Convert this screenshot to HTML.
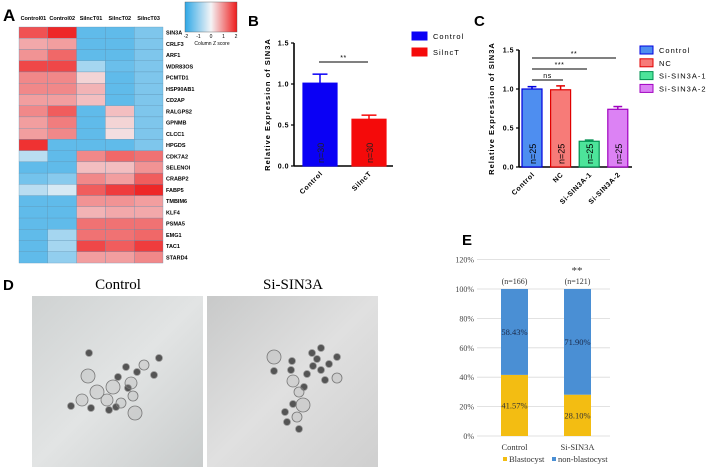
<!DOCTYPE html>
<html><head><meta charset="utf-8"><style>
html,body{margin:0;padding:0;background:#fff;}
svg{display:block;font-family:"Liberation Sans",Arial,sans-serif;}
</style></head><body>
<svg id="fig" width="708" height="468" viewBox="0 0 708 468">
<defs>
<linearGradient id="zkey" x1="0" x2="1" y1="0" y2="0">
<stop offset="0" stop-color="#2fa8e6"/><stop offset="0.5" stop-color="#f4f4f6"/><stop offset="1" stop-color="#ee1c1c"/>
</linearGradient>
<linearGradient id="photoL" x1="0" y1="0" x2="1" y2="1">
<stop offset="0" stop-color="#cfd2d2"/><stop offset="0.5" stop-color="#e2e4e4"/><stop offset="1" stop-color="#c9cccc"/>
</linearGradient>
<linearGradient id="photoR" x1="0" y1="0" x2="1" y2="1">
<stop offset="0" stop-color="#c8c9c9"/><stop offset="0.5" stop-color="#e0e0e0"/><stop offset="1" stop-color="#cfcfcf"/>
</linearGradient>
</defs>
<g id="panelA"></g>
<g id="panelB"></g>
<g id="panelC"></g>
<g id="panelD"></g>
<g id="panelE"></g>
</svg>
<script>
// ---- Panel A data
const hmCols = ["Control01","Control02","SilncT01","SilncT02","SilncT03"];
const hmGenes = ["SIN3A","CRLF3","ARF1","WDR83OS","PCMTD1","HSP90AB1","CD2AP","RALGPS2","GPNMB","CLCC1","HPGDS","CDK7A2","SELENOI","CRABP2","FABP5","TMBIM6","KLF4","PSMA5","EMG1","TAC1","STARD4"];
const hmValues = [
[1.5,1.9,-1.5,-1.5,-1.2],[0.7,0.8,-1.5,-1.5,-1.2],[0.9,1.3,-1.5,-1.5,-1.2],[1.6,1.6,-0.8,-1.4,-1.2],
[1.0,1.0,0.3,-1.5,-1.2],[1.0,1.0,0.6,-1.5,-1.2],[0.8,0.8,0.5,-1.5,-1.2],[1.0,1.4,-1.5,0.5,-1.2],
[0.8,1.1,-1.5,0.3,-1.2],[0.8,1.0,-1.5,0.2,-1.2],[1.8,-1.5,-1.5,-1.5,-1.2],[-0.6,-1.5,1.0,1.3,1.2],
[-1.5,-1.5,0.5,0.5,0.9],[-1.3,-1.1,1.0,0.8,1.4],[-0.6,-0.3,1.4,1.7,1.9],[-1.5,-1.5,0.9,0.9,0.8],
[-1.5,-1.5,0.6,0.7,0.7],[-1.5,-1.5,1.2,1.2,1.2],[-1.5,-0.8,1.2,1.2,1.3],[-1.5,-0.8,1.6,1.4,1.7],[-1.5,-1.0,0.8,0.8,1.0]];
const zTicks = ["-2","-1","0","1","2"];
// ---- Panel B data
const bCats = ["Control","SilncT"];
const bValues = [1.01,0.57];
const bErrors = [0.11,0.05];
const bN = ["n=30","n=30"];
const bTicks = [0,0.5,1.0,1.5];
// ---- Panel C data
const cCats = ["Control","NC","Si-SIN3A-1","Si-SIN3A-2"];
const cValues = [1.0,0.99,0.33,0.74];
const cErrors = [0.03,0.05,0.015,0.035];
const cN = ["n=25","n=25","n=25","n=25"];
const cTicks = [0,0.5,1.0,1.5];
// ---- Panel E data
const eCats = ["Control","Si-SIN3A"];
const eBlast = [41.57,28.10];
const eNon = [58.43,71.90];
const eNs = ["(n=166)","(n=121)"];
const eTicks = [0,20,40,60,80,100,120];

const NS="http://www.w3.org/2000/svg";
function mk(parent,tag,attrs,text){const e=document.createElementNS(NS,tag);for(const k in attrs)e.setAttribute(k,attrs[k]);if(text!==undefined)e.textContent=text;parent.appendChild(e);return e;}

// ===== Panel A
(function(){
const g=document.getElementById('panelA');
const x0=19,cw=28.8,y0=27,rh=11.24;
const colX=i=>x0+i*cw, rowY=j=>y0+j*rh;
function zcol(z){z=Math.max(-2,Math.min(2,z));const b=[47,168,230],w=[244,244,246],r=[238,28,28];let t,a,c;if(z<0){t=-z/2;a=w;c=b;}else{t=z/2;a=w;c=r;}return `rgb(${a.map((v,i)=>Math.round(v+(c[i]-v)*t)).join(',')})`;}
let t=mk(g,'text',{x:3,y:21,'font-size':17,'font-weight':'bold'},'A');

hmCols.forEach((c,i)=>{const e=mk(g,'text',{x:colX(i)+cw/2,y:20,'font-size':5.5,'font-weight':'bold','text-anchor':'middle'},c);
});
hmGenes.forEach((gn,j)=>{hmValues[j].forEach((v,i)=>{const r=mk(g,'rect',{x:colX(i),y:rowY(j),width:cw,height:rh,fill:zcol(v),stroke:'#5a8fb0','stroke-width':0.3});
});
const e=mk(g,'text',{x:166,y:rowY(j)+rh/2+2,'font-size':5.5,'font-weight':'bold'},gn);
});
const k=mk(g,'rect',{x:185,y:2,width:52,height:30,fill:'url(#zkey)',stroke:'#555','stroke-width':0.4});

zTicks.forEach((s,i)=>{const e=mk(g,'text',{x:186+i*12.5,y:38,'font-size':5,'text-anchor':'middle'},s);
});
const e=mk(g,'text',{x:212,y:45,'font-size':5,'text-anchor':'middle'},'Column Z score');

})();

// ===== generic bar chart
function barChart(gid,opt){
const g=document.getElementById(gid);
const y=v=>opt.y0-v/1.5*(opt.y0-opt.yTop);
let L=mk(g,'text',{x:opt.lx,y:opt.ly,'font-size':15,'font-weight':'bold'},opt.letter);

const ya=mk(g,'line',{x1:opt.ax,y1:y(1.5),x2:opt.ax,y2:opt.y0,stroke:'#000','stroke-width':1.6});

const xa=mk(g,'line',{x1:opt.ax,y1:opt.y0,x2:opt.axEnd,y2:opt.y0,stroke:'#000','stroke-width':1.6});

opt.ticks.forEach(v=>{const tk=mk(g,'line',{x1:opt.ax-3,y1:y(v),x2:opt.ax,y2:y(v),stroke:'#000','stroke-width':1.2});

const tl=mk(g,'text',{x:opt.ax-5,y:y(v)+2.5,'font-size':7,'font-weight':'bold','text-anchor':'end','letter-spacing':0.5},v.toFixed(1));
});
const yl=mk(g,'text',{x:opt.ylx,y:(y(1.5)+opt.y0)/2,'font-size':7.5,'font-weight':'bold','text-anchor':'middle','letter-spacing':1,transform:`rotate(-90 ${opt.ylx} ${(y(1.5)+opt.y0)/2})`},'Relative Expression of SIN3A');

opt.cats.forEach((c,i)=>{const bx=opt.bx0+i*opt.step, cx=bx+opt.bw/2;
const b=mk(g,'rect',{x:bx,y:y(opt.vals[i]),width:opt.bw,height:opt.y0-y(opt.vals[i]),fill:opt.fills[i],stroke:opt.strokes[i],'stroke-width':1.2});

const top=y(opt.vals[i]+opt.errs[i]);
const e1=mk(g,'line',{x1:cx,y1:y(opt.vals[i]),x2:cx,y2:top,stroke:opt.strokes[i],'stroke-width':1.5});

const e2=mk(g,'line',{x1:cx-opt.bw*0.22,y1:top,x2:cx+opt.bw*0.22,y2:top,stroke:opt.strokes[i],'stroke-width':1.5});

const nt=mk(g,'text',{x:cx+4,y:opt.y0-3,'font-size':opt.nfs,'text-anchor':'start',fill:opt.nfill,transform:`rotate(-90 ${cx+4} ${opt.y0-3})`},opt.ns[i]);

const xl=mk(g,'text',{x:cx+3,y:opt.y0+8,'font-size':7,'font-weight':'bold','text-anchor':'end','letter-spacing':0.6,transform:`rotate(-45 ${cx+3} ${opt.y0+8})`},c);

const lr=mk(g,'rect',{x:opt.legX,y:opt.legY+i*opt.legStep,width:opt.legW,height:8,fill:opt.fills[i],stroke:opt.strokes[i],'stroke-width':1});

const lt=mk(g,'text',{x:opt.legX+opt.legW+6,y:opt.legY+i*opt.legStep+7,'font-size':7.5,'letter-spacing':1},c);
});
opt.sig.forEach(s=>{const ln=mk(g,'line',{x1:s[0],y1:s[2],x2:s[1],y2:s[2],stroke:'#000','stroke-width':0.9});

const st=mk(g,'text',{x:(s[0]+s[1])/2,y:s[2]-2,'font-size':7,'text-anchor':'middle','letter-spacing':0.5},s[3]);
});
}
barChart('panelB',{letter:'B',lx:248,ly:26,ax:294,axEnd:393,y0:166,yTop:43,ylx:270,ticks:bTicks,cats:bCats,vals:bValues,errs:bErrors,ns:bN,
bx0:303,bw:34,step:49,fills:['#0a00f5','#f50a0a'],strokes:['#0a00f5','#f50a0a'],nfs:9,nfill:'#222',
legX:412,legY:32,legStep:16,legW:15,sig:[[319,368,62,'**']]});
barChart('panelC',{letter:'C',lx:474,ly:26,ax:519,axEnd:632,y0:167,yTop:50,ylx:494,ticks:cTicks,cats:cCats,vals:cValues,errs:cErrors,ns:cN,
bx0:522,bw:20,step:28.6,fills:['#4e8ef0','#f77b78','#4de49a','#dc82f4'],strokes:['#0000e0','#e00000','#009050','#a000c0'],nfs:9,nfill:'#000',
legX:640,legY:46,legStep:12.8,legW:13,sig:[[532,563,80,'ns'],[532,587,69,'***'],[532,616,58,'**']]});

// ===== Panel D
(function(){
const g=document.getElementById('panelD');
const L=mk(g,'text',{x:3,y:290,'font-size':15,'font-weight':'bold'},'D');

[[32,'url(#photoL)','Control','photo-control'],[207,'url(#photoR)','Si-SIN3A','photo-si-sin3a']].forEach(p=>{
const r=mk(g,'rect',{x:p[0],y:296,width:171,height:171,fill:p[1]});

const t=mk(g,'text',{x:p[0]+86,y:289,'font-size':15,'font-family':'Liberation Serif, serif','text-anchor':'middle'},p[2]);
});
const dark=[[89,353],[159,358],[126,367],[137,372],[154,375],[118,377],[71,406],[91,408],[109,410],[116,407],[128,388],
[312,353],[321,348],[317,359],[292,361],[337,357],[329,364],[313,366],[274,371],[291,370],[307,374],[321,370],[325,380],[304,387],[285,412],[287,422],[299,429],[293,404]];
const rings=[[88,376,7],[144,365,5],[97,392,7],[113,387,7],[131,383,6],[82,400,6],[107,400,6],[121,403,5],[135,413,7],[133,396,5],
[274,357,7],[293,381,6],[337,378,5],[299,392,5],[303,405,7],[297,417,5]];
dark.forEach(d=>{const c=mk(g,'circle',{cx:d[0],cy:d[1],r:3.5,fill:'#555',stroke:'#999','stroke-width':0.8});
});
rings.forEach(d=>{const c=mk(g,'circle',{cx:d[0],cy:d[1],r:d[2],fill:'rgba(150,150,150,0.2)',stroke:'#777','stroke-width':0.8});
});
})();

// ===== Panel E
(function(){
const g=document.getElementById('panelE');
const y0=436,px=1.47;const y=v=>y0-v*px;
const L=mk(g,'text',{x:462,y:245,'font-size':15,'font-weight':'bold'},'E');

eTicks.forEach(v=>{const l=mk(g,'line',{x1:477,y1:y(v),x2:610,y2:y(v),stroke:'#d9d9d9','stroke-width':0.8});

const t=mk(g,'text',{x:474,y:y(v)+3,'font-size':8,'font-family':'Liberation Serif, serif','text-anchor':'end',fill:'#444'},v+'%');
});
const bx=[501,564],bw=27;
eCats.forEach((c,i)=>{
const b1=mk(g,'rect',{x:bx[i],y:y(eBlast[i]),width:bw,height:eBlast[i]*px,fill:'#f3bd12'});

const b2=mk(g,'rect',{x:bx[i],y:y(eBlast[i]+eNon[i]),width:bw,height:eNon[i]*px,fill:'#4a8fd4'});

const cx=bx[i]+bw/2;
const t1=mk(g,'text',{x:cx,y:y(eBlast[i]/2)+3,'font-size':8.5,'font-family':'Liberation Serif, serif','text-anchor':'middle',fill:'#333'},eBlast[i].toFixed(2)+'%');

const t2=mk(g,'text',{x:cx,y:y(eBlast[i]+eNon[i]/2)+3,'font-size':8.5,'font-family':'Liberation Serif, serif','text-anchor':'middle',fill:'#1a2a4a'},eNon[i].toFixed(2)+'%');

const t3=mk(g,'text',{x:cx,y:284,'font-size':8,'font-family':'Liberation Serif, serif','text-anchor':'middle',fill:'#333'},eNs[i]);

const t4=mk(g,'text',{x:cx,y:450,'font-size':8.5,'font-family':'Liberation Serif, serif','text-anchor':'middle',fill:'#333'},c);
});
const s=mk(g,'text',{x:577,y:274,'font-size':11,'font-family':'Liberation Serif, serif','text-anchor':'middle',fill:'#333'},'**');

[[503,'#f3bd12','Blastocyst'],[552,'#4a8fd4','non-blastocyst']].forEach(l=>{
const r=mk(g,'rect',{x:l[0],y:457,width:4,height:4,fill:l[1]});

const t=mk(g,'text',{x:l[0]+6,y:462,'font-size':8.5,'font-family':'Liberation Serif, serif',fill:'#333'},l[2]);
});
})();
</script>
</body></html>
